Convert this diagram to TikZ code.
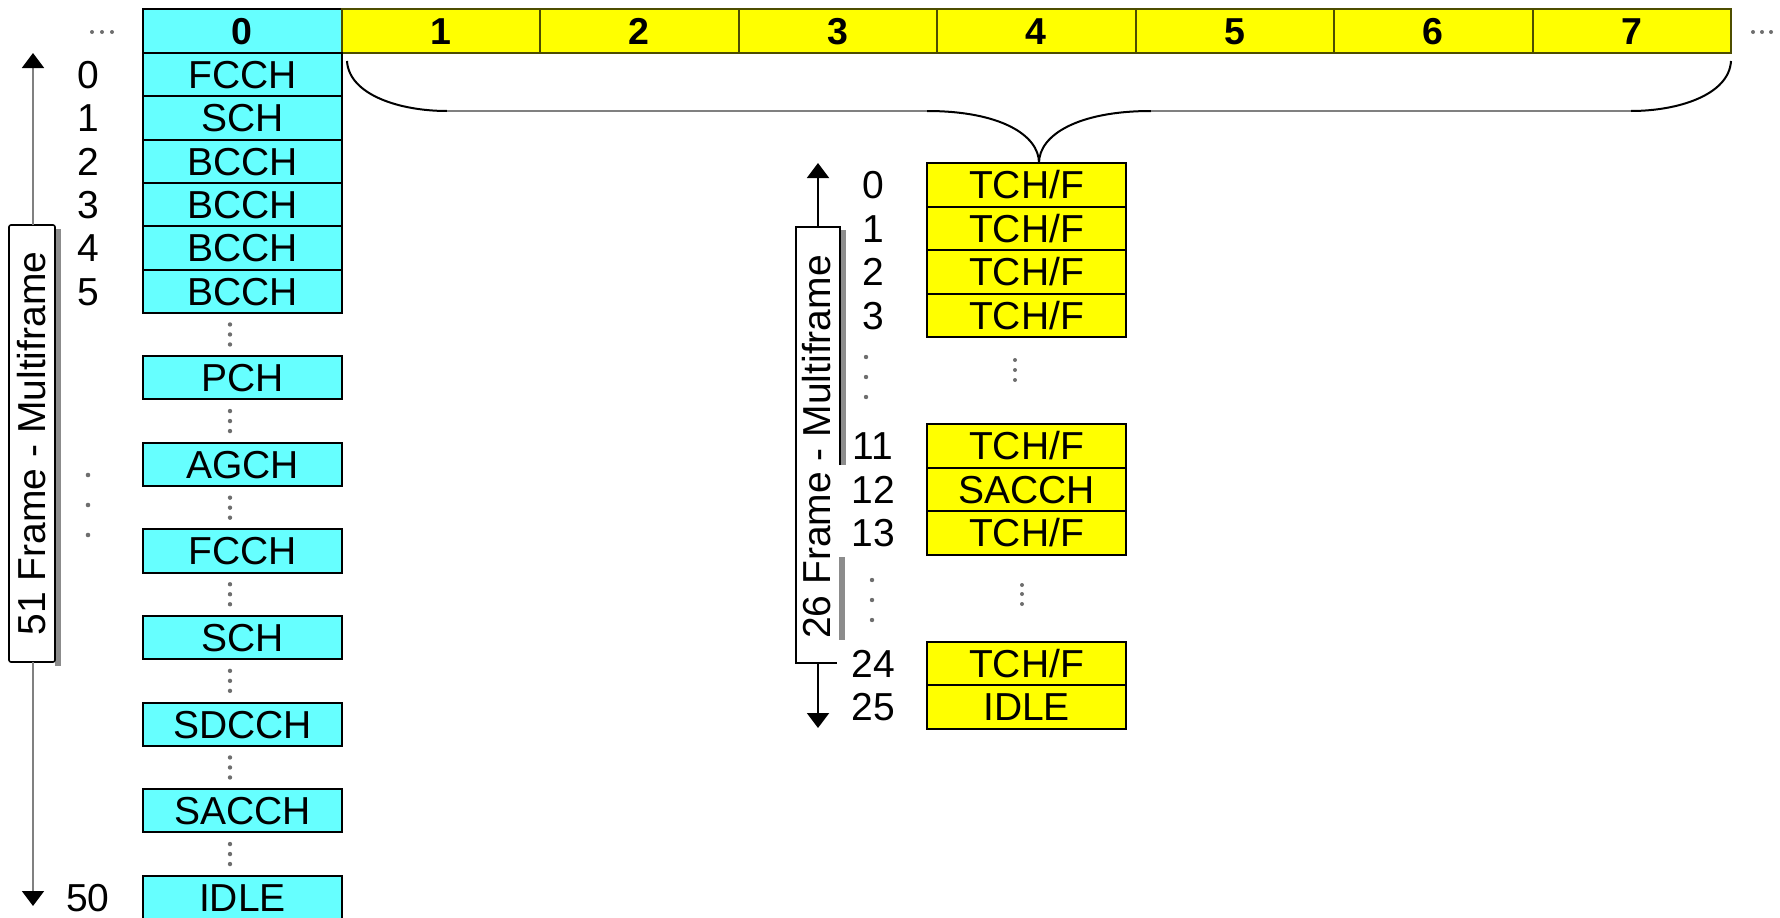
\documentclass[tikz,border=0pt]{standalone}
\usepackage{fontspec}
\setmainfont{Liberation Sans}
\usetikzlibrary{arrows.meta}
\definecolor{cy}{HTML}{66FFFF}
\definecolor{yl}{HTML}{FFFF00}
\definecolor{olv}{HTML}{4D4D00}
\definecolor{shd}{HTML}{8C8C8C}
\definecolor{dotc}{HTML}{6E6E6E}
\begin{document}
\begin{tikzpicture}[x=1pt,y=-1pt,
 every node/.style={inner sep=0pt, outer sep=0pt},
 hcell/.style={draw=olv, line width=2pt, fill=yl, minimum width=198.5pt, minimum height=44pt, text height=26.5pt, text depth=0pt, font=\fontsize{37.5}{37.5}\selectfont\bfseries},
 cbox/.style={draw=black, line width=2pt, fill=cy, minimum width=199pt, minimum height=43.3pt, text height=27.9pt, text depth=0pt, font=\fontsize{39}{39}\selectfont},
 ybox/.style={draw=black, line width=2pt, fill=yl, minimum width=199pt, minimum height=43.5pt, text height=27.9pt, text depth=0pt, font=\fontsize{39}{39}\selectfont},
 num/.style={text height=27.9pt, text depth=0pt, font=\fontsize{39}{39}\selectfont},
 gdot/.style={fill=dotc},
 upar/.style={line width=2pt, -{Triangle[width=22pt,length=15pt,black]}},
]
\useasboundingbox (0,0) rectangle (1780,918);

% top row of timeslots
\node[hcell, fill=cy, draw=black] (t0) at (242.25,31) {0};
\foreach \k in {1,...,7}
  \node[hcell] (t\k) at ({143+198.5*(\k+0.5)},31) {\k};
\foreach \x in {92,102,112} \fill[gdot] (\x,32) circle (2pt);
\foreach \x in {1753,1762,1771} \fill[gdot] (\x,32) circle (2pt);

% left column (51 frame multiframe)
\foreach \k/\t in {0/FCCH,1/SCH,2/BCCH,3/BCCH,4/BCCH,5/BCCH,7/PCH,9/AGCH,11/FCCH,13/SCH,15/SDCCH,17/SACCH,19/IDLE}
  \node[cbox] (c\k) at (242.5,{74.65+43.3*\k}) {\t};
\foreach \k in {0,...,5}
  \node[num] (n\k) at (88,{74.65+43.3*\k}) {\k};
\node[num] (n50) at (88,897.35) {50};
\foreach \g in {6,8,10,12,14,16,18}
  \foreach \d in {-10,0,10}
    \fill[gdot] (230,{74.65+43.3*\g+\d}) circle (2.2pt);
\foreach \y in {475,505,535} \fill[gdot] (88,\y) circle (2.3pt);

% left label box and arrows
\fill[shd] (55,229) rectangle (61,666);
\draw[line width=1.6pt, fill=white, rounded corners=2pt] (9,225) rectangle (55,662);
\node[num, rotate=90] (L51) at (32,443.5) {51 Frame - Multiframe};
\coordinate (LboxT) at (33,225);
\coordinate (LboxB) at (33,662);
\coordinate (LtipT) at (33,53);
\coordinate (LtipB) at (33,906);
\draw[upar, draw=gray] (LboxT) -- (LtipT);
\draw[upar, draw=gray] (LboxB) -- (LtipB);

% right column (26 frame multiframe)
\node[ybox] (r0) at (1026.5,184.75) {TCH/F};
\node[ybox] (r1) at (1026.5,228.25) {TCH/F};
\node[ybox] (r2) at (1026.5,271.75) {TCH/F};
\node[ybox] (r3) at (1026.5,315.25) {TCH/F};
\node[ybox] (r11) at (1026.5,445.75) {TCH/F};
\node[ybox] (r12) at (1026.5,489.25) {SACCH};
\node[ybox] (r13) at (1026.5,532.75) {TCH/F};
\node[ybox] (r24) at (1026.5,663.25) {TCH/F};
\node[ybox] (r25) at (1026.5,706.75) {IDLE};
\foreach \n/\y in {0/184.75,1/228.25,2/271.75,3/315.25,11/445.75,12/489.25,13/532.75,24/663.25,25/706.75}
  \node[num] (m\n) at (873,\y) {\n};
\foreach \y in {357,377,397} \fill[gdot] (866,\y) circle (2.2pt);
\foreach \y in {580,600,620} \fill[gdot] (872,\y) circle (2.2pt);
\foreach \y in {360,370,380} \fill[gdot] (1015,\y) circle (2pt);
\foreach \y in {585,594,604} \fill[gdot] (1022,\y) circle (2pt);

% right label box
\draw[line width=5pt, shd] (843.5,230) -- (843.5,465);
\draw[line width=6pt, shd] (842,557) -- (842,640);
\draw[line width=1.6pt] (840,465) -- (840,227) -- (796,227) -- (796,663) -- (837,663);
\node[num, rotate=90] (L26) at (817,447) {26 Frame - Multiframe};
\coordinate (RboxT) at (818,227);
\coordinate (RboxB) at (818,663);
\coordinate (RtipT) at (818,163);
\coordinate (RtipB) at (818,728);
\draw[upar] (RboxT) -- (RtipT);
\draw[upar] (RboxB) -- (RtipB);

% brace
\coordinate (bL) at (347,61);
\coordinate (bR) at (1731,61);
\coordinate (tip) at (1039,163);
\coordinate (fl1) at (447,111);
\coordinate (fl2) at (927,111);
\coordinate (fr1) at (1151,111);
\coordinate (fr2) at (1631,111);
\draw[line width=2pt] (bL) .. controls (349,95) and (400,111) .. (fl1);
\draw[line width=2pt, gray] (fl1) -- (fl2);
\draw[line width=2pt] (fl2) .. controls (1000,111) and (1039,135) .. (tip);
\draw[line width=2pt] (tip) .. controls (1039,135) and (1078,111) .. (fr1);
\draw[line width=2pt, gray] (fr1) -- (fr2);
\draw[line width=2pt] (fr2) .. controls (1678,111) and (1729,95) .. (bR);
\end{tikzpicture}
\end{document}
